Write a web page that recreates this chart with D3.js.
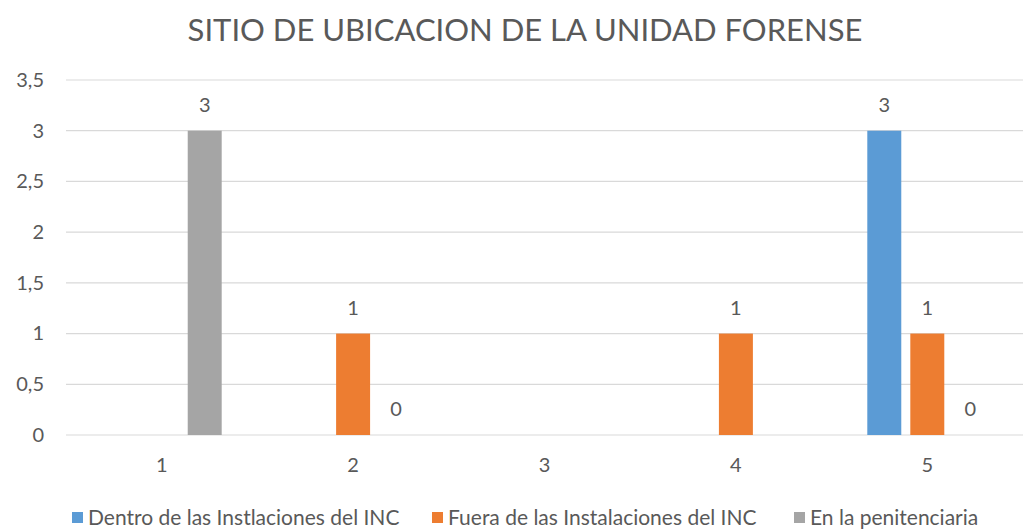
<!DOCTYPE html>
<html>
<head>
<meta charset="utf-8">
<script src="https://cdn.jsdelivr.net/npm/d3@7/dist/d3.min.js"></script>
<style>
  html, body { margin: 0; padding: 0; background: #fff; }
  text { font-family: Lato, "Open Sans", sans-serif; fill: #595959; }
</style>
</head>
<body>
<script>
var w = 1025, h = 531;

// data
var categories = ["1", "2", "3", "4", "5"];
var seriesNames = ["Dentro de las Instlaciones del INC", "Fuera de las Instalaciones del INC", "En la penitenciaria"];
var dentro = [null, null, null, null, 3];
var fuera = [null, 1, null, 1, 1];
var penitenciaria = [3, 0, null, null, 0];
var yTicks = [0, 0.5, 1, 1.5, 2, 2.5, 3, 3.5];
var colors = ["#5B9BD5", "#ED7D31", "#A5A5A5"];

var seriesValues = [dentro, fuera, penitenciaria];

var svg = d3.select("body").append("svg").attr("width", w).attr("height", h);

var x = d3.scaleBand().domain(categories).range([66, 1023]);
var xSub = d3.scaleBand().domain(seriesNames).range([0, x.bandwidth()])
  .paddingInner(0.21).paddingOuter(0.83);
var y = d3.scaleLinear().domain([0, 3.5]).range([435, 80]);
var fmt = function(v){ return String(v).replace(".", ","); };

// title
svg.append("text")
  .attr("x", 525).attr("y", 41)
  .attr("text-anchor", "middle")
  .attr("font-size", "31px")
  .text("SITIO DE UBICACION DE LA UNIDAD FORENSE");

// gridlines
svg.append("g").selectAll("line")
  .data(yTicks)
  .enter().append("line")
  .attr("x1", 66).attr("x2", 1023)
  .attr("y1", function(d){ return y(d); })
  .attr("y2", function(d){ return y(d); })
  .attr("stroke", "#d9d9d9").attr("stroke-width", 1.2);

// y axis labels
var yAxis = d3.axisLeft(y).tickValues(yTicks).tickFormat(fmt).tickSize(0).tickPadding(0);
var gy = svg.append("g").attr("transform", "translate(44,0)").call(yAxis);
gy.select(".domain").remove();
gy.selectAll("text").attr("font-size", "20px").attr("fill", "#595959")
  .style("font-family", "Lato, 'Open Sans', sans-serif");

// x axis labels
var xAxis = d3.axisBottom(x).tickSize(0).tickPadding(0);
var gx = svg.append("g").attr("transform", "translate(0,458)").call(xAxis);
gx.select(".domain").remove();
gx.selectAll("text").attr("font-size", "20px").attr("fill", "#595959")
  .style("font-family", "Lato, 'Open Sans', sans-serif");

// bars + labels
var points = [];
seriesValues.forEach(function(vals, si){
  vals.forEach(function(v, ci){
    if (v !== null) points.push({ cat: categories[ci], s: seriesNames[si], v: v, c: colors[si] });
  });
});

svg.append("g").selectAll("rect")
  .data(points)
  .enter().append("rect")
  .attr("x", function(d){ return x(d.cat) + xSub(d.s); })
  .attr("width", xSub.bandwidth())
  .attr("y", function(d){ return y(d.v); })
  .attr("height", function(d){ return y(0) - y(d.v); })
  .attr("fill", function(d){ return d.c; });

svg.append("g").selectAll("text")
  .data(points)
  .enter().append("text")
  .attr("x", function(d){ return x(d.cat) + xSub(d.s) + xSub.bandwidth() / 2; })
  .attr("y", function(d){ return y(d.v) - 19; })
  .attr("text-anchor", "middle")
  .attr("font-size", "20px")
  .attr("fill", "#404040")
  .text(function(d){ return fmt(d.v); });

// legend
var legendX = [88, 448, 810];
var lg = svg.append("g").selectAll("g")
  .data(seriesNames)
  .enter().append("g")
  .attr("transform", function(d, i){ return "translate(" + legendX[i] + ",525)"; });
lg.append("rect").attr("x", -16).attr("y", -13).attr("width", 11).attr("height", 11)
  .attr("fill", function(d, i){ return colors[i]; });
lg.append("text").attr("x", 0).attr("y", 0)
  .attr("font-size", "21px")
  .text(function(d){ return d; });
</script>
</body>
</html>
